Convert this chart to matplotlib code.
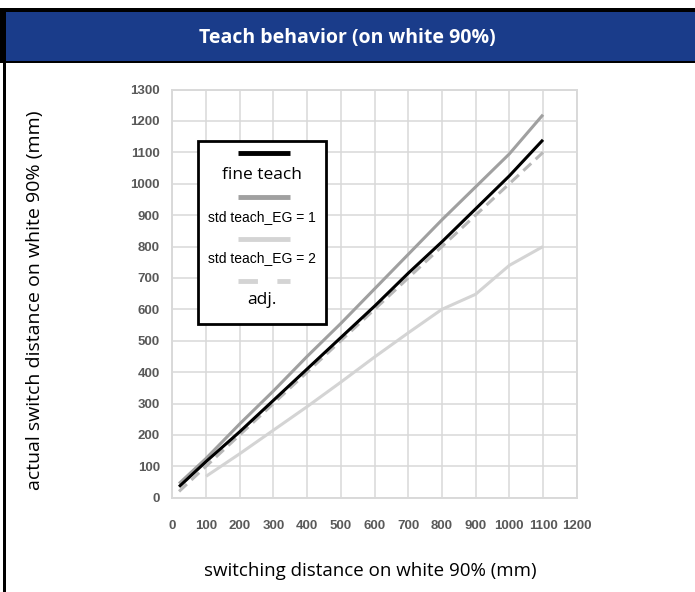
import matplotlib
matplotlib.use("Agg")
import matplotlib.pyplot as plt
from matplotlib.patches import Rectangle
from matplotlib.lines import Line2D

# switching distance (mm) and measured switch distance (mm)
x_fine = [20, 100, 200, 300, 400, 500, 600, 700, 800, 900, 1000, 1100]
y_fine = [35, 115, 210, 310, 410, 510, 610, 715, 815, 920, 1025, 1140]

x_eg1 = [20, 100, 200, 300, 400, 500, 600, 700, 800, 900, 1000, 1100]
y_eg1 = [45, 125, 235, 340, 450, 555, 665, 775, 885, 990, 1095, 1220]

x_eg2 = [100, 200, 300, 400, 500, 600, 700, 800, 900, 1000, 1100]
y_eg2 = [68, 140, 215, 290, 368, 448, 525, 600, 648, 740, 800]

x_adj = [20, 100, 200, 300, 400, 500, 600, 700, 800, 900, 1000, 1100]
y_adj = [20, 100, 200, 300, 400, 500, 600, 700, 800, 900, 1000, 1100]

labels = ["fine teach", "std teach_EG = 1", "std teach_EG = 2", "adj."]
x_ticks = list(range(0, 1300, 100))
y_ticks = list(range(0, 1400, 100))

W, H = 695, 592
fig = plt.figure(figsize=(W / 100, H / 100), dpi=100)

def fx(px):
    return px / W

def fy(py):
    return 1 - py / H

# header band
fig.patches.append(Rectangle((0, fy(63)), 1, fy(8) - fy(63), transform=fig.transFigure,
                             facecolor="black", edgecolor="none", zorder=0))
fig.patches.append(Rectangle((fx(5), fy(61)), 1, fy(12) - fy(61), transform=fig.transFigure,
                             facecolor="#1a3c8a", edgecolor="none", zorder=1))
fig.patches.append(Rectangle((fx(3), 0), fx(2.5), fy(8), transform=fig.transFigure,
                             facecolor="black", edgecolor="none", zorder=2))
fig.text(0.5, fy(38), "Teach behavior (on white 90%)", color="white", ha="center", va="center",
         fontsize=14, fontweight="bold", family=["Open Sans", "DejaVu Sans"])

ax = fig.add_axes([fx(172.3), fy(497.7), fx(576.7) - fx(172.3), fy(89.6) - fy(497.7)])
grid_c = "#d9d9d9"
ax.set_xlim(0, 1200)
ax.set_ylim(0, 1300)
ax.set_xticks(x_ticks)
ax.set_yticks(y_ticks)
ax.grid(True, color=grid_c, linewidth=1.1)
ax.set_axisbelow(True)
for s in ax.spines.values():
    s.set_color(grid_c)
    s.set_linewidth(1.4)
ax.tick_params(length=0, colors="#595959", labelsize=9.5)
ax.tick_params(axis="x", pad=16)
ax.tick_params(axis="y", pad=9)
for lab in ax.get_xticklabels() + ax.get_yticklabels():
    lab.set_family(["Liberation Sans", "DejaVu Sans"])
    lab.set_fontweight("bold")

ax.plot(x_eg2, y_eg2, color="#d4d4d4", lw=2.2, solid_capstyle="butt")
ax.plot(x_eg1, y_eg1, color="#a0a0a0", lw=2.2, solid_capstyle="butt")
ax.plot(x_adj, y_adj, color="#b8b8b8", lw=2.2, dashes=(3.5, 2))
ax.plot(x_fine, y_fine, color="black", lw=2.2, solid_capstyle="butt")

ax.set_xlabel("switching distance on white 90% (mm)", fontsize=13.5,
              family=["Open Sans", "DejaVu Sans"], va="center")
ax.set_ylabel("actual switch distance on white 90% (mm)", fontsize=14,
              family=["Open Sans", "DejaVu Sans"], va="center")
ax.xaxis.set_label_coords((370 - 172.3) / 404.4, (497.7 - 571) / 408.1)
ax.yaxis.set_label_coords((35 - 172.3) / 404.4, (497.7 - 300) / 408.1)

# legend drawn by hand: handle above its label
fig.patches.append(Rectangle((fx(198.3), fy(324.3)), fx(326) - fx(198.3), fy(141) - fy(324.3),
                             transform=fig.transFigure, facecolor="white", edgecolor="black",
                             linewidth=2, zorder=5))
styles = [dict(color="black"), dict(color="#a0a0a0"), dict(color="#d4d4d4"),
          dict(color="#d4d4d4", dashes=(4, 4))]
handle_y = [153.3, 197.3, 239.3, 280.7]
label_y = [175, 216.7, 258.3, 300]
label_fs = [12.5, 10, 10, 12.5]
for lab, st, hy, ly, fs in zip(labels, styles, handle_y, label_y, label_fs):
    fig.lines.append(Line2D([fx(237.7), fx(290)], [fy(hy), fy(hy)], transform=fig.transFigure,
                            lw=3.5, solid_capstyle="butt", zorder=6, **st))
    fig.text(fx(262), fy(ly), lab, ha="center", va="center", fontsize=fs, zorder=6,
             family=["Liberation Sans", "DejaVu Sans"] if fs < 12 else ["Open Sans", "DejaVu Sans"])

fig.savefig("out.png", dpi=100)
